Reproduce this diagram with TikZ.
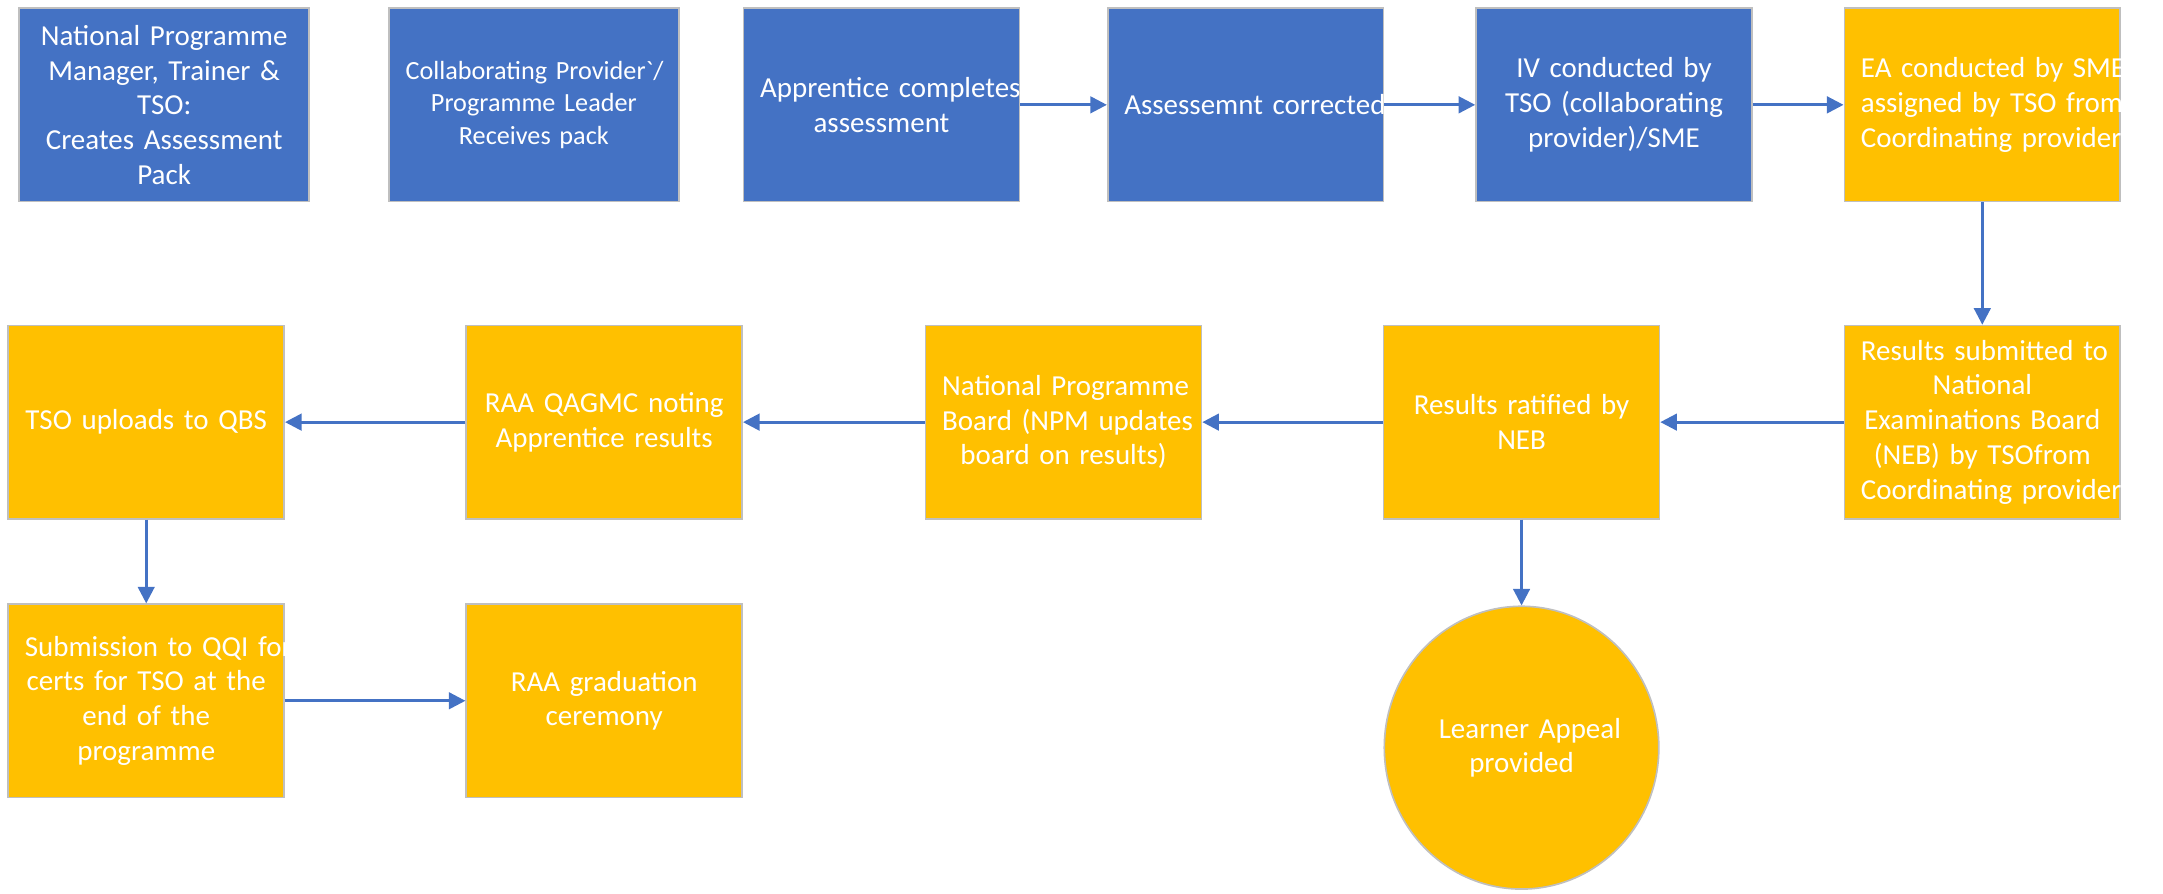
\documentclass[tikz,border=0pt]{standalone}
\usepackage{fontspec}
\setmainfont{Carlito}[Ligatures=TeXOff]
\usetikzlibrary{arrows.meta,shapes.geometric}
\definecolor{stepblue}{HTML}{4472C4}
\definecolor{stepgold}{HTML}{FFC000}
\definecolor{stepedge}{HTML}{BFBFBF}
\newcommand{\wideline}[1]{\leavevmode\hbox to\linewidth{\hfil#1\hfil}}

\begin{document}
\begin{tikzpicture}[x=0.5pt,y=-0.5pt]
                        \tikzstyle{box}=[draw=stepedge, line width=0.6pt, text=white, align=center, inner xsep=6pt, inner ysep=0pt, text width=88pt, minimum width=100pt, minimum height=70pt, font=\fontsize{10.5}{12.6}\selectfont]
                        \tikzstyle{widebox}=[box, text width=93pt, minimum width=105pt]
                        \tikzstyle{bluebox}=[box, fill=stepblue]
                        \tikzstyle{goldbox}=[box, fill=stepgold]
                        \tikzstyle{flow}=[draw=stepblue, line width=1pt, -{Triangle[length=6pt,width=6pt]}]
                        \useasboundingbox (0,0) rectangle (1568,648);
                        \node[widebox, fill=stepblue] (pack) at (119,76) {National Programme\\Manager, Trainer \&\\TSO:\\Creates Assessment\\Pack};
                        \node[widebox, fill=stepblue, font=\fontsize{9.5}{11.8}\selectfont] (receive) at (387,76) {\wideline{Collaborating Provider`/}\\Programme Leader\\Receives pack};
                        \node[bluebox] (complete) at (639,76) {\wideline{Apprentice completes}\\assessment};
                        \node[bluebox] (correct) at (903,76) {\wideline{Assessemnt corrected}};
                        \node[bluebox] (iv) at (1170,76) {IV conducted by\\\wideline{TSO (collaborating}\\provider)/SME};
                        \node[goldbox] (ea) at (1437,76) {\wideline{EA conducted by SME}\\\wideline{assigned by TSO from}\\\wideline{Coordinating provider}};
                        \node[goldbox] (submit) at (1437,306) {\wideline{Results submitted to}\\National\\\wideline{Examinations Board}\\(NEB) by TSOfrom\\\wideline{Coordinating provider}};
                        \node[goldbox] (ratify) at (1103,306) {\wideline{Results ratified by}\\NEB};
                        \node[goldbox] (board) at (771,306) {\wideline{National Programme}\\\wideline{Board (NPM updates}\\board on results)};
                        \node[goldbox] (noting) at (438,306) {\wideline{RAA QAGMC noting}\\Apprentice results};
                        \node[goldbox] (upload) at (106,306) {TSO uploads to QBS};
                        \node[goldbox] (qqi) at (106,508) {\wideline{Submission to QQI for}\\\wideline{certs for TSO at the}\\end of the\\programme};
                        \node[goldbox] (ceremony) at (438,508) {RAA graduation\\ceremony};
                        \node[goldbox, ellipse, inner sep=0pt, text width=60pt, minimum width=99.5pt, minimum height=102.5pt] (appeal) at (1103,542) {\wideline{Learner Appeal}\\provided};
                        \draw[flow] (complete) -- (correct);
                        \draw[flow] (correct) -- (iv);
                        \draw[flow] (iv) -- (ea);
                        \draw[flow] (ea) -- (submit);
                        \draw[flow] (submit) -- (ratify);
                        \draw[flow] (ratify) -- (board);
                        \draw[flow] (board) -- (noting);
                        \draw[flow] (noting) -- (upload);
                        \draw[flow] (upload) -- (qqi);
                        \draw[flow] (qqi) -- (ceremony);
                        \draw[flow] (ratify) -- (appeal);
                    \end{tikzpicture}
\end{document}
